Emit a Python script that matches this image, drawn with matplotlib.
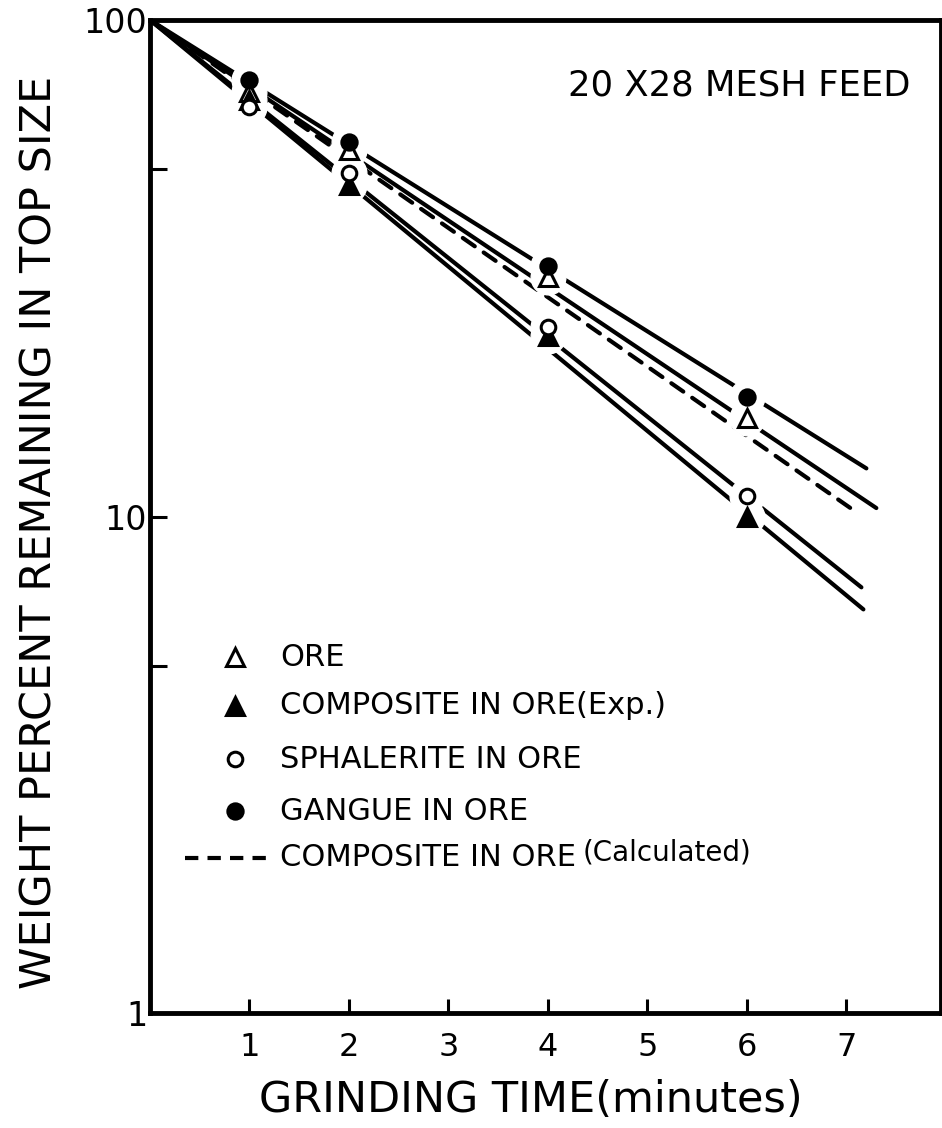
import matplotlib
matplotlib.use("Agg")
import matplotlib.pyplot as plt

plt.rcParams['font.family'] = ['DejaVu Sans']

# ---- data ----
time_min = [1, 2, 4, 6]
ore = [71.6, 54.8, 30.3, 15.8]
composite_exp = [69.0, 46.6, 23.1, 10.0]
sphalerite = [66.8, 49.2, 24.1, 11.0]
gangue = [75.7, 56.8, 32.0, 17.4]

# fitted straight lines (start, end)
ore_line_t = [0, 7.3]
ore_line_v = [100, 10.4]
comp_line_t = [0, 7.17]
comp_line_v = [100, 6.5]
sph_line_t = [0, 7.15]
sph_line_v = [100, 7.2]
gan_line_t = [0, 7.2]
gan_line_v = [100, 12.5]
calc_line_t = [0, 7.1]
calc_line_v = [100, 10.2]

xticks = [1, 2, 3, 4, 5, 6, 7]
yticks = [1, 5, 10, 50, 100]
ytick_labels = ['1', '', '10', '', '100']

W, H = 942, 1128
fig = plt.figure(figsize=(W / 100, H / 100), dpi=100)

def fx(x):
    return x / W

def fy(y):
    return 1 - y / H

ax_left, ax_right, ax_top, ax_bot = 150, 941, 20, 1013
ax = fig.add_axes([fx(ax_left), fy(ax_bot), (ax_right - ax_left) / W, (ax_bot - ax_top) / H])
ax.set_yscale('log')
ax.set_xlim(0, 7.95)
ax.set_ylim(1, 100)

lw = 3.0
for t, v in [(ore_line_t, ore_line_v), (comp_line_t, comp_line_v),
             (sph_line_t, sph_line_v), (gan_line_t, gan_line_v)]:
    ax.plot(t, v, color='black', lw=lw, solid_capstyle='round', zorder=2)
ax.plot(calc_line_t, calc_line_v, color='black', lw=lw, dashes=(3.5, 2.6),
        dash_capstyle='round', zorder=2)

series = [
    (ore, '^', 'white', 13),
    (composite_exp, '^', 'black', 13),
    (sphalerite, 'o', 'white', 10.5),
    (gangue, 'o', 'black', 11),
]
# white halos produce the gaps in the lines around each point
for vals, m, fc, ms in series:
    ax.plot(time_min, vals, linestyle='none', marker='o', markersize=25,
            markerfacecolor='white', markeredgecolor='white', zorder=3)
for vals, m, fc, ms in series:
    ax.plot(time_min, vals, linestyle='none', marker=m, markersize=ms,
            markerfacecolor=fc, markeredgecolor='black', markeredgewidth=2.2, zorder=4)

for s in ax.spines.values():
    s.set_linewidth(3.5)

ax.set_xticks(xticks)
ax.set_xticklabels([str(x) for x in xticks])
ax.set_yticks(yticks)
ax.set_yticklabels(ytick_labels)
ax.yaxis.set_minor_locator(matplotlib.ticker.NullLocator())
ax.tick_params(axis='x', direction='in', length=10, width=2.2, labelsize=23, pad=14)
ax.tick_params(axis='y', direction='in', length=12, width=2.2, labelsize=24, pad=2)

fig.text(fx(40), fy(532), 'WEIGHT PERCENT REMAINING IN TOP SIZE', rotation=90,
         ha='center', va='center', fontsize=31)
fig.text(fx(531), fy(1100), 'GRINDING TIME(minutes)', ha='center', va='center', fontsize=31)
fig.text(fx(910), fy(85), '20 X28 MESH FEED', ha='right', va='center', fontsize=25.5)

# manual legend
leg_rows = [
    ('^', 'white', 13, 'ORE', 657),
    ('^', 'black', 13, 'COMPOSITE IN ORE(Exp.)', 706),
    ('o', 'white', 10.5, 'SPHALERITE IN ORE', 759),
    ('o', 'black', 11, 'GANGUE IN ORE', 811),
]
for m, fc, ms, label, y in leg_rows:
    fig.lines.append(matplotlib.lines.Line2D([fx(235)], [fy(y)], transform=fig.transFigure,
                     marker=m, markersize=ms, markerfacecolor=fc,
                     markeredgecolor='black', markeredgewidth=2.2, linestyle='none'))
    fig.text(fx(280), fy(y), label, ha='left', va='center', fontsize=22)

fig.lines.append(matplotlib.lines.Line2D([fx(185), fx(266)], [fy(858), fy(858)],
                 transform=fig.transFigure, color='black', lw=lw, dashes=(3.2, 2.2)))
fig.text(fx(280), fy(858), 'COMPOSITE IN ORE', ha='left', va='center', fontsize=22)
fig.text(fx(583), fy(852), '(Calculated)', ha='left', va='center', fontsize=20)

fig.savefig('out.png', dpi=100)
